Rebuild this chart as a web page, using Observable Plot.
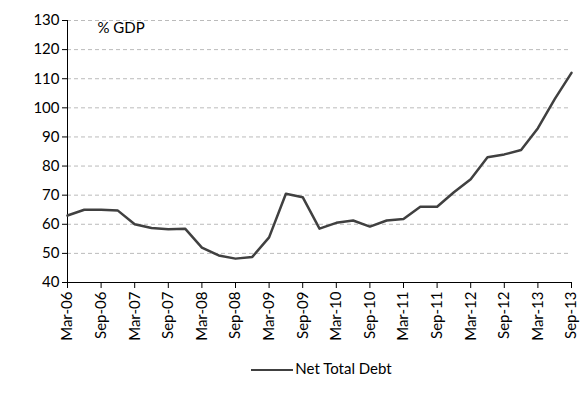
<!DOCTYPE html>
<html><head>
<script src="https://cdn.jsdelivr.net/npm/d3@7"></script>
<script src="https://cdn.jsdelivr.net/npm/@observablehq/plot@0.6"></script>
<style>
body{margin:0;background:#fff;font-family:Lato,"Open Sans",sans-serif;}
#legend{text-align:center;font-size:15px;color:#000;margin-top:14px;margin-left:60px}
#legend span{display:inline-block;width:42px;border-top:2px solid #404040;vertical-align:middle;margin-right:2px}
</style>
</head><body>
<div id="chart-container"></div>
<div id="legend"><span></span>Net Total Debt</div>
<script>
const quarters = ["Mar-06","Jun-06","Sep-06","Dec-06","Mar-07","Jun-07","Sep-07","Dec-07",
  "Mar-08","Jun-08","Sep-08","Dec-08","Mar-09","Jun-09","Sep-09","Dec-09",
  "Mar-10","Jun-10","Sep-10","Dec-10","Mar-11","Jun-11","Sep-11","Dec-11",
  "Mar-12","Jun-12","Sep-12","Dec-12","Mar-13","Jun-13","Sep-13"];
const netTotalDebt = [63,65,65,64.7,60,58.7,58.3,58.5,52,49.3,48.2,48.8,55.5,70.5,69.3,58.5,
  60.5,61.3,59.2,61.3,61.8,66,66,71,75.5,83,84,85.5,93,103,112];
const tickIdx = d3.range(0, quarters.length, 2);
const yTicks = d3.range(40, 131, 10);

const data = quarters.map((q, i) => ({i, v: netTotalDebt[i]}));

const plot = Plot.plot({
  width: 583, height: 345,
  marginLeft: 67, marginRight: 12, marginTop: 20, marginBottom: 63,
  style: {fontFamily: "Lato, 'Open Sans', sans-serif", fontSize: "15px", color: "#000"},
  x: {domain: [0, quarters.length - 1], label: null},
  y: {domain: [40, 130], label: null},
  marks: [
    Plot.gridY(yTicks.slice(1), {stroke: "#bbb", strokeOpacity: 1, strokeDasharray: "4,3"}),
    Plot.axisY({ticks: yTicks, tickSize: 5, tickPadding: 3, fontSize: 15}),
    Plot.ruleX([0], {stroke: "#000"}),
    Plot.ruleY([40], {stroke: "#000"}),
    Plot.axisX({ticks: tickIdx, tickFormat: i => quarters[i], tickRotate: -90, tickSize: 6, tickPadding: 3, fontSize: 15}),
    Plot.line(data, {x: "i", y: "v", stroke: "#404040", strokeWidth: 2.5}),
    Plot.text(["% GDP"], {frameAnchor: "top-left", dx: 30, dy: 2, fontSize: 15, textAnchor: "start"})
  ]
});
document.getElementById('chart-container').appendChild(plot);
</script>
</body></html>
